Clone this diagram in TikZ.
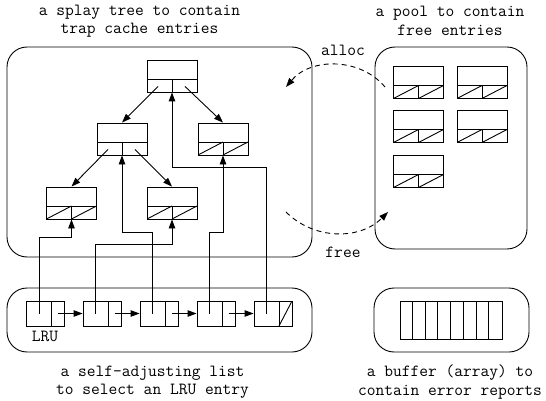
\documentclass[tikz,border=0pt]{standalone}
\usetikzlibrary{arrows.meta}

% inner lines of a tree entry: key part on top, two pointer cells below
\newcommand\entrylines{%
  \draw ([yshift=13pt]path picture bounding box.south west) -- ([yshift=13pt]path picture bounding box.south east);
  \draw (path picture bounding box.south) -- ([yshift=13pt]path picture bounding box.south);}
\newcommand\nullptrs{%
  \draw (path picture bounding box.south west) -- ([yshift=13pt]path picture bounding box.south);
  \draw (path picture bounding box.south) -- ([yshift=13pt]path picture bounding box.south east);}
\newcommand\cellline{%
  \draw ([xshift=25pt]path picture bounding box.south west) -- ([xshift=25pt]path picture bounding box.north west);}

\tikzset{
  entry/.style={draw, minimum width=50pt, minimum height=32pt, inner sep=0pt, path picture={\entrylines}},
  leaf/.style={entry, path picture={\entrylines\nullptrs}},
  listnode/.style={draw, minimum width=38pt, minimum height=25pt, inner sep=0pt, path picture={\cellline}},
  lastnode/.style={listnode, path picture={\cellline
    \draw ([xshift=25pt]path picture bounding box.south west) -- (path picture bounding box.north east);}},
}

\begin{document}
\begin{tikzpicture}[x=1pt, y=-1pt, line width=0.9pt,
    font=\ttfamily\fontsize{17}{18.5}\selectfont,
    frame/.style={draw, rounded corners=20pt, inner sep=0pt},
    tip/.style={-{Triangle[length=9pt,width=6.5pt]}}]
  \useasboundingbox (0,0) rectangle (546,401);

  % frames and titles
  \node[frame, minimum width=305pt, minimum height=210pt] (tree) at (159.5,152) {};
  \node[frame, minimum width=152pt, minimum height=202pt] (pool) at (451,148) {};
  \node[frame, minimum width=305pt, minimum height=64pt] (list) at (159.5,320) {};
  \node[frame, minimum width=155pt, minimum height=64pt] (buffer) at (451.5,320) {};

  \node[align=center] (treetitle) at (139.5,21) {a splay tree to contain\\trap cache entries};
  \node[align=center] (pooltitle) at (450,21) {a pool to contain\\free entries};
  \node[align=center] (listtitle) at (152.5,382) {a self-adjusting list\\to select an LRU entry};
  \node[align=center] (buftitle) at (450,382) {a buffer (array) to\\contain error reports};

  % splay tree
  \node[entry] (root) at (172,76) {};
  \node[entry] (l) at (122,139) {};
  \node[leaf] (r) at (223,139) {};
  \node[leaf] (ll) at (71.5,203) {};
  \node[leaf] (lr) at (172,203) {};

  \draw[tip] ([xshift=-14pt,yshift=6pt]root.south) -- (l.north);
  \draw[tip] ([xshift=13pt,yshift=6pt]root.south) -- (r.north);
  \draw[tip] ([xshift=-14pt,yshift=6pt]l.south) -- (ll.north);
  \draw[tip] ([xshift=13pt,yshift=6pt]l.south) -- (lr.north);

  % free pool
  \node[leaf] (f1) at (418.5,82.5) {};
  \node[leaf] (f2) at (482,82.5) {};
  \node[leaf] (f3) at (418.5,126.5) {};
  \node[leaf] (f4) at (482,126.5) {};
  \node[leaf] (f5) at (418.5,171.5) {};

  \coordinate (allocfrom) at (385,87);
  \coordinate (allocto) at (286,87);
  \coordinate (freefrom) at (286,212);
  \coordinate (freeto) at (388,212);
  \draw[tip, dash pattern=on 5pt off 4pt] (allocfrom) to[bend right=50] (allocto);
  \draw[tip, dash pattern=on 5pt off 4pt] (freefrom) to[bend right=45] (freeto);
  \node (alloc) at (343,50) {alloc};
  \node (free) at (343,252) {free};

  % LRU list
  \node[listnode] (n1) at (45.5,313.5) {};
  \node[listnode] (n2) at (102,313.5) {};
  \node[listnode] (n3) at (159,313.5) {};
  \node[listnode] (n4) at (216,313.5) {};
  \node[lastnode] (n5) at (273,313.5) {};
  \node (lru) at (45,336) {LRU};

  \foreach \a/\b in {1/2,2/3,3/4,4/5}
    \draw[tip] ([xshift=12.5pt]n\a.center) -- (n\b.west);

  \foreach \n in {1,...,5}
    \coordinate (p\n) at ([xshift=-6.5pt]n\n.center);
  \draw[tip] (p1) -- (p1 |- 0,237) -| (ll.south);
  \draw[tip] (p2) -- (p2 |- 0,244) -| (lr.south);
  \draw[tip] (p3) -- (p3 |- 0,232) -| (l.south);
  \draw[tip] (p4) -- (p4 |- 0,232) -| (r.south);
  \draw[tip] (p5) -- (p5 |- 0,167) -| (root.south);

  % error buffer
  \node[draw, minimum width=102pt, minimum height=38pt, inner sep=0pt] (buf) at (451,320) {};
  \foreach \i in {1,...,7}
    \draw ([xshift=\i*12.75pt]buf.south west) -- ([xshift=\i*12.75pt]buf.north west);
\end{tikzpicture}
\end{document}
